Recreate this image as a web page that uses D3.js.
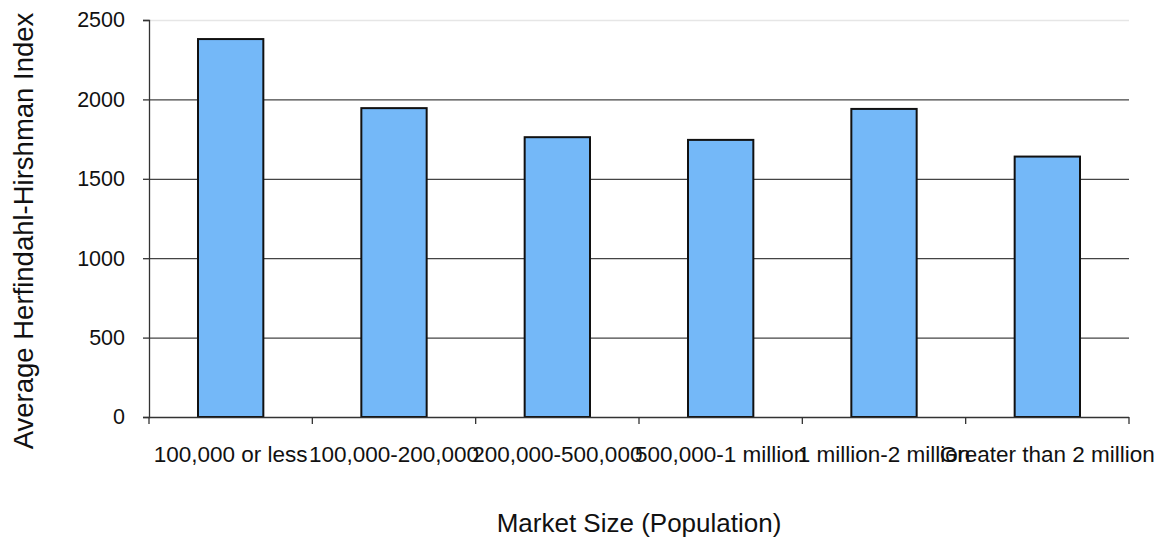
<!DOCTYPE html>
<html>
<head>
<meta charset="utf-8">
<script src="https://cdn.jsdelivr.net/npm/d3@7"></script>
<style>
    body { margin: 0; background: #fff; }
    text { font-family: "Liberation Sans", Arial, sans-serif; fill: #111; }
</style>
</head>
<body>
<div id="chart"></div>
<script>
var categories = ["100,000 or less", "100,000-200,000", "200,000-500,000",
    "500,000-1 million", "1 million-2 million", "Greater than 2 million"];
var hhiValues = [2380, 1945, 1762, 1745, 1940, 1640];
var yTicks = [0, 500, 1000, 1500, 2000, 2500];

var totalWidth = 1162,
    totalHeight = 542,
    margin = {top: 20, right: 33, bottom: 125, left: 149};

var width = totalWidth - margin.left - margin.right,
    height = totalHeight - margin.top - margin.bottom;

var xScale = d3.scaleBand()
    .domain(categories)
    .range([0, width])
    .padding(0);

var yScale = d3.scaleLinear()
    .domain([0, 2500])
    .range([height, 0]);

var barWidth = xScale.bandwidth() * 0.4;

var svg = d3.select("#chart").append("svg")
    .attr("width", totalWidth)
    .attr("height", totalHeight);

var g = svg.append("g")
    .attr("transform", "translate(" + margin.left + "," + margin.top + ")");

// gridlines
g.selectAll(".grid")
    .data(yTicks.filter(function(d) { return d > 0; }))
    .enter().append("line")
    .attr("class", "grid")
    .attr("x1", 0)
    .attr("x2", width)
    .attr("y1", function(d) { return yScale(d) + 0.5; })
    .attr("y2", function(d) { return yScale(d) + 0.5; })
    .attr("stroke", function(d) { return d === 2500 ? "#e6e6e6" : "#444"; })
    .attr("stroke-width", 1.3);

// bars
g.selectAll(".bar")
    .data(hhiValues)
    .enter().append("rect")
    .attr("class", "bar")
    .attr("x", function(d, i) { return xScale(categories[i]) + (xScale.bandwidth() - barWidth) / 2; })
    .attr("y", function(d) { return yScale(d); })
    .attr("width", barWidth)
    .attr("height", function(d) { return height - yScale(d); })
    .attr("fill", "#74b8f8")
    .attr("stroke", "#111")
    .attr("stroke-width", 2);

// axes
var yAxis = d3.axisLeft(yScale).tickValues(yTicks).tickFormat(d3.format("d"))
    .tickSize(6).tickPadding(18);
var xAxis = d3.axisBottom(xScale).tickSize(0).tickPadding(29);

var yG = g.append("g").call(yAxis);
yG.select(".domain").attr("stroke", "#333").attr("stroke-width", 1.3);
yG.selectAll(".tick line").attr("stroke", "#333").attr("stroke-width", 1.3);
yG.selectAll(".tick text").style("font-size", "21.5px").attr("fill", "#111");

var xG = g.append("g")
    .attr("transform", "translate(0," + height + ")")
    .call(xAxis);
xG.select(".domain").attr("stroke", "#333").attr("stroke-width", 1.3)
    .attr("d", "M0,0.5H" + width);
xG.selectAll(".tick text").style("font-size", "22.5px").attr("fill", "#111");

// x tick marks at band boundaries
xG.selectAll(".bound")
    .data(categories.concat([null]))
    .enter().append("line")
    .attr("class", "bound")
    .attr("x1", function(d, i) { return i * xScale.step(); })
    .attr("x2", function(d, i) { return i * xScale.step(); })
    .attr("y1", 0)
    .attr("y2", 7)
    .attr("stroke", "#333")
    .attr("stroke-width", 1.3);

// axis titles
svg.append("text")
    .attr("x", margin.left + width / 2)
    .attr("y", 532)
    .attr("text-anchor", "middle")
    .style("font-size", "26px")
    .text("Market Size (Population)");

svg.append("text")
    .attr("transform", "translate(33," + 231 + ") rotate(-90)")
    .attr("text-anchor", "middle")
    .style("font-size", "27.5px")
    .text("Average Herfindahl-Hirshman Index");
</script>
</body>
</html>
